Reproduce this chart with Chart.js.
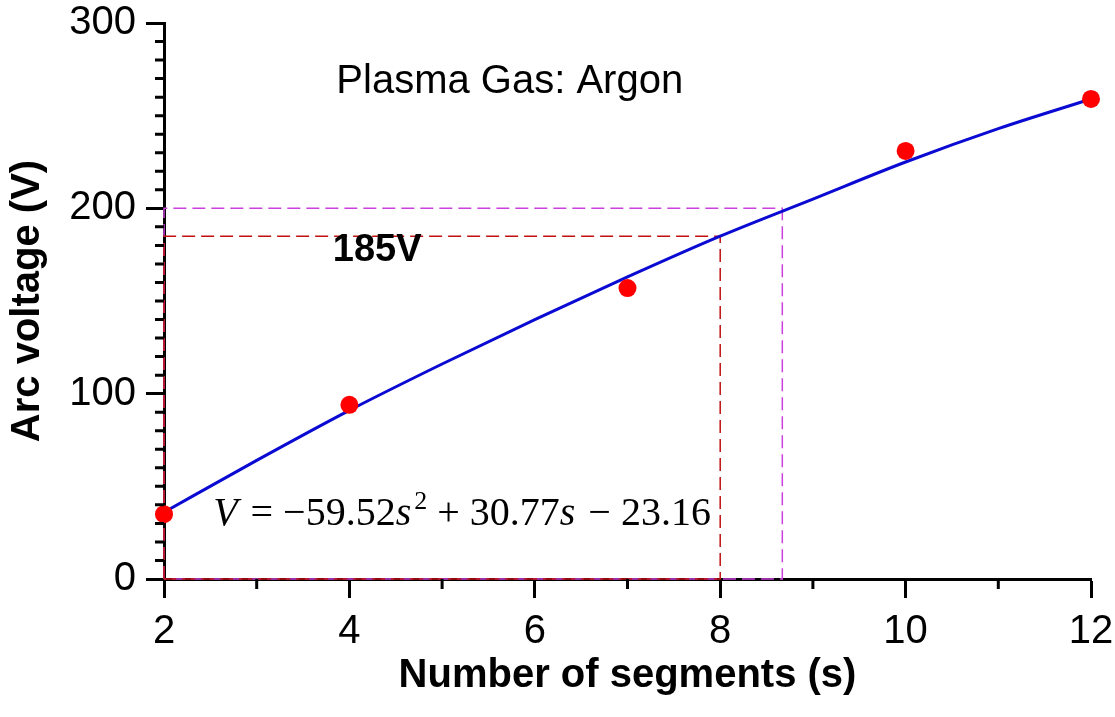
<!DOCTYPE html>
<html>
<head>
<meta charset="utf-8">
<script src="https://cdn.jsdelivr.net/npm/chart.js@4.4.1/dist/chart.umd.min.js"></script>
<style>
  html, body { margin: 0; padding: 0; background: #fff; }
  #wrap { width: 1115px; height: 717px; }
</style>
</head>
<body>
<div id="wrap"><canvas id="arcChart"></canvas></div>
<script>
// measured points
const segments = [2, 4, 7, 10, 12];
const arcVoltage = [35, 94, 157, 231, 259];

// fitted curve
const fitSegments = [2, 3, 4, 5, 6, 7, 8, 9, 10, 11, 12];
const fitVoltage = [36, 64, 91, 116, 140, 163, 185, 205, 225, 243, 259];

// dashed guide boxes (185 V at s = 8, 200 V at s = 8.67)
const guide185X = [2, 2, 8, 8, 2];
const guide185Y = [0, 185, 185, 0, 0];
const guide200X = [2, 2, 8.67, 8.67, 2];
const guide200Y = [0, 200, 200, 0, 0];

// axes
const xRange = [2, 12];
const yRange = [0, 300];
const xMinorTicks = [3, 5, 7, 9, 11];
const yMinorTicks = [10, 20, 30, 40, 50, 60, 70, 80, 90, 110, 120, 130, 140, 150, 160, 170, 180, 190,
                     210, 220, 230, 240, 250, 260, 270, 280, 290];

// texts
const gasLabel = 'Plasma Gas: Argon';
const voltLabel = '185V';
const fitEquation = [
  { t: 'V', italic: true },
  { t: ' = \u221259.52' },
  { t: 's', italic: true },
  { t: '2', sup: true },
  { t: ' + 30.77' },
  { t: 's', italic: true },
  { t: ' \u2212 23.16' }
];

const toXY = (xs, ys) => xs.map((v, i) => ({ x: v, y: ys[i] }));

// minor ticks + annotations
const extrasPlugin = {
  id: 'extras',
  afterDraw(chart) {
    const { ctx, scales: { x, y } } = chart;
    ctx.save();
    ctx.strokeStyle = '#000';
    ctx.lineWidth = 3;
    ctx.beginPath();
    xMinorTicks.forEach(v => {
      const px = x.getPixelForValue(v);
      ctx.moveTo(px, y.bottom);
      ctx.lineTo(px, y.bottom + 10);
    });
    yMinorTicks.forEach(v => {
      const py = y.getPixelForValue(v);
      ctx.moveTo(x.left, py);
      ctx.lineTo(x.left - 9, py);
    });
    ctx.stroke();

    ctx.fillStyle = '#000';
    ctx.textBaseline = 'middle';
    ctx.textAlign = 'center';
    ctx.font = '40px "Liberation Sans", Arial, sans-serif';
    ctx.fillText(gasLabel, x.getPixelForValue(5.73), y.getPixelForValue(268));
    ctx.font = 'bold 38px "Liberation Sans", Arial, sans-serif';
    ctx.fillText(voltLabel, x.getPixelForValue(4.3), y.getPixelForValue(177));

    // equation in serif, italic variables, superscript
    ctx.textAlign = 'left';
    ctx.textBaseline = 'alphabetic';
    let px = x.getPixelForValue(2.53);
    const base = y.getPixelForValue(29);
    fitEquation.forEach(seg => {
      const size = seg.sup ? 26 : 40;
      ctx.font = (seg.italic ? 'italic ' : '') + size + 'px "Liberation Serif", "Times New Roman", serif';
      const py = seg.sup ? base - 16 : base;
      ctx.fillText(seg.t, px, py);
      px += ctx.measureText(seg.t).width + (seg.italic ? 3 : 0);
    });
    ctx.restore();
  }
};

const tickFont = { family: '"Liberation Sans", Arial, sans-serif', size: 40 };
const titleFont = { family: '"Liberation Sans", Arial, sans-serif', size: 40, weight: 'bold' };

new Chart(document.getElementById('arcChart'), {
  type: 'scatter',
  data: {
    datasets: [
      {
        label: 'Measured',
        data: toXY(segments, arcVoltage),
        backgroundColor: '#ff0000',
        borderWidth: 0,
        pointRadius: 9,
        clip: false
      },
      {
        label: 'Fit',
        data: toXY(fitSegments, fitVoltage),
        showLine: true,
        borderColor: '#0a0ad2',
        borderWidth: 3,
        pointRadius: 0,
        cubicInterpolationMode: 'monotone',
        clip: false
      },
      {
        label: '185 V',
        data: toXY(guide185X, guide185Y),
        showLine: true,
        borderColor: '#c01010',
        borderWidth: 1.5,
        borderDash: [13, 6],
        pointRadius: 0,
        clip: false
      },
      {
        label: '200 V',
        data: toXY(guide200X, guide200Y),
        showLine: true,
        borderColor: '#cc40dd',
        borderWidth: 1.5,
        borderDash: [13, 6],
        pointRadius: 0,
        clip: false
      }
    ]
  },
  options: {
    responsive: true,
    maintainAspectRatio: false,
    animation: false,
    layout: { padding: { top: 23, right: 24, left: 0, bottom: 0 } },
    plugins: {
      legend: { display: false },
      tooltip: { enabled: false }
    },
    scales: {
      x: {
        type: 'linear',
        min: xRange[0],
        max: xRange[1],
        border: { color: '#000', width: 3 },
        grid: { drawOnChartArea: false, tickLength: 19, tickWidth: 3, tickColor: '#000' },
        ticks: { stepSize: 2, autoSkip: false, color: '#000', font: tickFont, padding: 10 },
        title: { display: true, text: 'Number of segments (s)', color: '#000', font: titleFont, padding: { top: 0, bottom: 17 } },
        afterFit(scale) {
          scale.height = 138;
          scale.paddingLeft = 0;
          scale.paddingRight = 0;
        }
      },
      y: {
        min: yRange[0],
        max: yRange[1],
        border: { color: '#000', width: 3 },
        grid: { drawOnChartArea: false, tickLength: 18, tickWidth: 3, tickColor: '#000' },
        ticks: { stepSize: 100, color: '#000', font: tickFont, padding: 10 },
        title: { display: true, text: 'Arc voltage (V)', color: '#000', font: titleFont, padding: { top: 4, bottom: 0 } },
        afterFit(scale) {
          scale.width = 164;
          scale.paddingTop = 0;
          scale.paddingBottom = 0;
        }
      }
    }
  },
  plugins: [extrasPlugin]
});
</script>
</body>
</html>
